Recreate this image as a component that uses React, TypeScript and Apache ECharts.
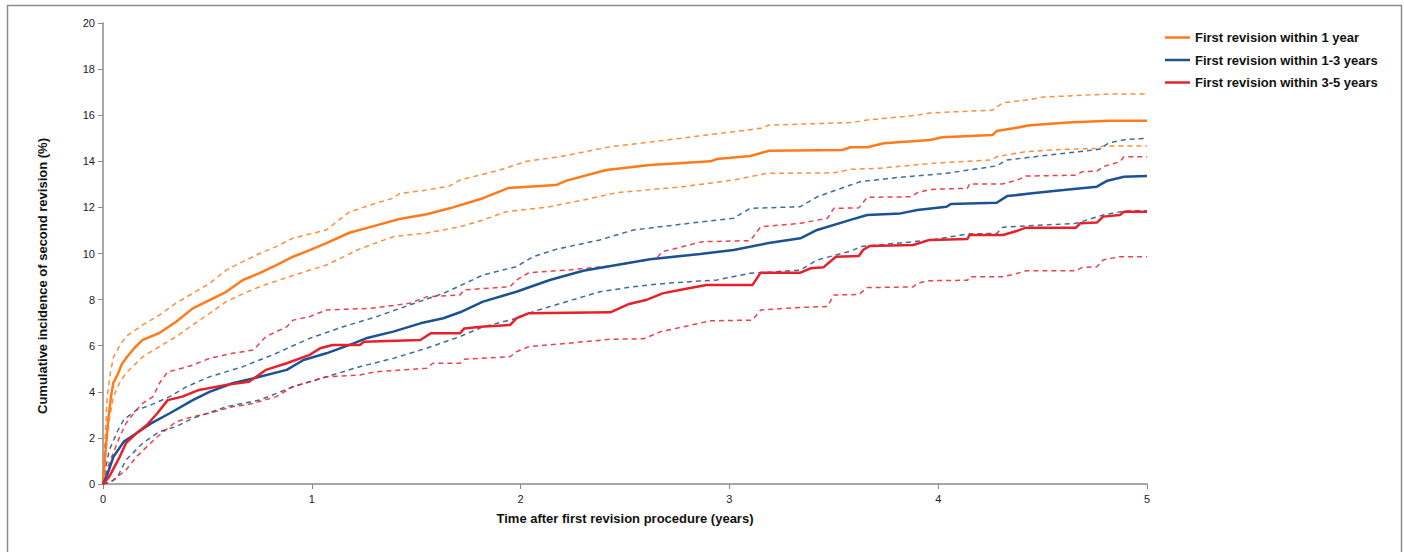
import React, { useEffect, useRef } from "react";
import * as echarts from "echarts";

const yTicks = [0, 2, 4, 6, 8, 10, 12, 14, 16, 18, 20];
const xTicks = [0, 1, 2, 3, 4, 5];
const legendNames = ["First revision within 1 year", "First revision within 1-3 years", "First revision within 3-5 years"];
const xTitle = "Time after first revision procedure (years)";
const yTitle = "Cumulative incidence of second revision (%)";

const oneYear = [[0,0],[0.01,1.2],[0.025,2.8],[0.04,3.9],[0.05,4.4],[0.073,4.8],[0.09,5.2],[0.114,5.5],[0.15,5.9],[0.19,6.25],[0.27,6.55],[0.35,7.04],[0.43,7.62],[0.51,7.98],[0.59,8.34],[0.67,8.85],[0.75,9.15],[0.83,9.5],[0.91,9.86],[0.99,10.15],[1.07,10.45],[1.18,10.9],[1.3,11.2],[1.42,11.5],[1.55,11.7],[1.66,11.96],[1.82,12.4],[1.94,12.84],[2.17,12.97],[2.22,13.16],[2.41,13.62],[2.62,13.84],[2.91,14.0],[2.94,14.1],[3.10,14.23],[3.19,14.46],[3.54,14.49],[3.58,14.61],[3.66,14.61],[3.74,14.78],[3.96,14.92],[4.02,15.04],[4.26,15.14],[4.28,15.31],[4.36,15.43],[4.44,15.56],[4.62,15.68],[4.82,15.76],[5.0,15.76]];
const oneYearUpper = [[0,0],[0.01,2],[0.02,3.8],[0.035,4.8],[0.05,5.5],[0.08,6.0],[0.11,6.4],[0.19,6.9],[0.27,7.33],[0.35,7.85],[0.43,8.27],[0.51,8.7],[0.59,9.28],[0.67,9.65],[0.75,10.0],[0.83,10.3],[0.91,10.67],[1.07,11.02],[1.12,11.38],[1.18,11.8],[1.31,12.19],[1.39,12.4],[1.42,12.6],[1.55,12.75],[1.66,12.93],[1.71,13.19],[1.90,13.62],[2.03,14.0],[2.19,14.2],[2.43,14.63],[2.70,14.92],[2.94,15.2],[3.02,15.28],[3.15,15.43],[3.19,15.57],[3.58,15.68],[3.66,15.79],[3.9,16.0],[3.96,16.1],[4.26,16.22],[4.31,16.54],[4.45,16.69],[4.49,16.78],[4.82,16.92],[5.0,16.92]];
const oneYearLower = [[0,0],[0.015,1.5],[0.03,2.8],[0.05,3.79],[0.08,4.4],[0.11,4.81],[0.19,5.52],[0.27,5.96],[0.35,6.39],[0.43,6.9],[0.51,7.4],[0.59,7.91],[0.67,8.25],[0.75,8.56],[0.91,9.05],[1.07,9.5],[1.23,10.2],[1.39,10.73],[1.55,10.89],[1.71,11.16],[1.82,11.45],[1.93,11.81],[2.14,12.03],[2.30,12.32],[2.46,12.64],[2.78,12.9],[3.02,13.19],[3.18,13.48],[3.50,13.5],[3.58,13.65],[3.72,13.7],[3.97,13.91],[4.26,14.06],[4.28,14.2],[4.42,14.42],[4.6,14.52],[4.76,14.56],[4.79,14.66],[5.0,14.66]];

const oneToThree = [[0,0],[0.02,0.4],[0.05,1.18],[0.1,1.84],[0.16,2.2],[0.23,2.63],[0.32,3.07],[0.43,3.64],[0.51,4.0],[0.62,4.37],[0.75,4.65],[0.88,4.95],[0.96,5.38],[1.07,5.67],[1.2,6.1],[1.26,6.32],[1.39,6.61],[1.52,6.97],[1.63,7.19],[1.71,7.45],[1.82,7.91],[1.98,8.34],[2.14,8.85],[2.30,9.25],[2.46,9.5],[2.62,9.75],[2.86,9.98],[3.02,10.15],[3.18,10.44],[3.34,10.66],[3.42,11.02],[3.58,11.46],[3.66,11.67],[3.82,11.74],[3.9,11.89],[4.04,12.03],[4.06,12.15],[4.28,12.2],[4.33,12.49],[4.45,12.61],[4.60,12.75],[4.76,12.9],[4.81,13.16],[4.89,13.33],[5.0,13.36]];
const oneToThreeUpper = [[0,0],[0.015,0.8],[0.03,1.47],[0.07,2.3],[0.1,2.8],[0.16,3.21],[0.23,3.43],[0.32,3.79],[0.40,4.22],[0.51,4.65],[0.67,5.09],[0.83,5.67],[0.99,6.32],[1.15,6.82],[1.31,7.26],[1.47,7.77],[1.63,8.27],[1.71,8.6],[1.82,9.07],[1.98,9.43],[2.06,9.86],[2.17,10.18],[2.38,10.59],[2.54,11.02],[2.78,11.28],[3.02,11.53],[3.10,11.96],[3.34,12.03],[3.42,12.46],[3.58,12.97],[3.63,13.12],[3.82,13.31],[4.04,13.48],[4.28,13.8],[4.33,14.06],[4.77,14.52],[4.82,14.81],[4.90,14.95],[5.0,15.0]];
const oneToThreeLower = [[0,0],[0.04,0.1],[0.07,0.32],[0.11,1.04],[0.19,1.77],[0.27,2.27],[0.35,2.49],[0.43,2.85],[0.59,3.35],[0.75,3.64],[0.91,4.22],[1.07,4.65],[1.23,5.09],[1.39,5.45],[1.55,5.89],[1.71,6.4],[1.82,6.82],[1.98,7.19],[2.06,7.48],[2.22,7.91],[2.38,8.34],[2.54,8.56],[2.70,8.71],[2.94,8.85],[3.10,9.14],[3.34,9.28],[3.42,9.72],[3.58,10.1],[3.63,10.3],[3.88,10.51],[3.97,10.59],[4.14,10.85],[4.28,10.87],[4.31,11.14],[4.66,11.31],[4.79,11.67],[4.89,11.84],[5.0,11.86]];

const threeToFive = [[0,0],[0.03,0.32],[0.08,1.18],[0.11,1.77],[0.16,2.2],[0.21,2.56],[0.26,3.07],[0.31,3.64],[0.38,3.79],[0.46,4.08],[0.59,4.3],[0.70,4.44],[0.78,4.95],[0.88,5.24],[0.99,5.6],[1.04,5.89],[1.10,6.03],[1.23,6.03],[1.25,6.17],[1.52,6.25],[1.57,6.54],[1.71,6.54],[1.73,6.75],[1.81,6.82],[1.95,6.9],[1.98,7.19],[2.04,7.41],[2.43,7.45],[2.52,7.81],[2.60,7.98],[2.68,8.27],[2.78,8.45],[2.89,8.63],[3.11,8.63],[3.15,9.17],[3.34,9.17],[3.39,9.36],[3.45,9.4],[3.51,9.86],[3.62,9.89],[3.64,10.15],[3.67,10.32],[3.88,10.37],[3.96,10.59],[4.14,10.63],[4.15,10.8],[4.31,10.8],[4.38,10.99],[4.42,11.12],[4.66,11.12],[4.68,11.31],[4.76,11.34],[4.79,11.6],[4.87,11.67],[4.89,11.81],[5.0,11.81]];
const threeToFiveUpper = [[0,0],[0.03,0.9],[0.08,2.05],[0.11,2.63],[0.16,3.21],[0.19,3.5],[0.24,3.79],[0.27,4.37],[0.31,4.87],[0.35,4.95],[0.43,5.16],[0.51,5.45],[0.62,5.67],[0.72,5.81],[0.78,6.39],[0.88,6.82],[0.91,7.11],[0.99,7.26],[1.07,7.55],[1.28,7.62],[1.47,7.84],[1.55,8.12],[1.71,8.2],[1.73,8.42],[1.95,8.56],[1.98,8.85],[2.04,9.17],[2.22,9.28],[2.43,9.46],[2.65,9.79],[2.68,10.08],[2.87,10.51],[3.1,10.56],[3.15,11.16],[3.34,11.31],[3.47,11.53],[3.50,11.96],[3.62,11.98],[3.66,12.44],[3.87,12.46],[3.9,12.64],[3.96,12.78],[4.14,12.83],[4.15,13.02],[4.31,13.02],[4.38,13.19],[4.42,13.36],[4.66,13.4],[4.69,13.55],[4.76,13.57],[4.79,13.77],[4.87,13.98],[4.89,14.2],[5.0,14.2]];
const threeToFiveLower = [[0,0],[0.05,0.17],[0.11,0.61],[0.16,1.18],[0.21,1.62],[0.26,2.05],[0.35,2.7],[0.43,2.92],[0.51,3.07],[0.62,3.35],[0.72,3.5],[0.83,3.79],[0.91,4.22],[0.99,4.44],[1.07,4.65],[1.23,4.73],[1.31,4.87],[1.55,5.02],[1.58,5.24],[1.71,5.24],[1.73,5.41],[1.95,5.52],[1.98,5.74],[2.04,5.96],[2.22,6.1],[2.43,6.28],[2.59,6.3],[2.67,6.61],[2.78,6.82],[2.91,7.08],[3.11,7.11],[3.15,7.55],[3.34,7.66],[3.47,7.7],[3.50,8.2],[3.62,8.22],[3.66,8.52],[3.88,8.55],[3.9,8.71],[3.96,8.82],[4.14,8.84],[4.15,8.99],[4.31,8.99],[4.38,9.14],[4.42,9.25],[4.66,9.25],[4.69,9.4],[4.76,9.42],[4.79,9.72],[4.87,9.86],[5.0,9.86]];

const ORANGE = "#FF7A1A";
const BLUE = "#1B5292";
const RED = "#E8202A";
const FONT = "'Liberation Sans', Arial, sans-serif";

function solid(name: string, data: number[][], color: string) {
  return {
    type: "line", name, data, showSymbol: false, symbol: "none", z: 3,
    lineStyle: { color, width: 2.5 }, itemStyle: { color },
  };
}
function dashed(name: string, data: number[][], color: string) {
  return {
    type: "line", name, data, showSymbol: false, symbol: "none", z: 2,
    lineStyle: { color, width: 1.5, type: [5, 4], opacity: 0.85 }, itemStyle: { color },
  };
}

export default function App() {
  const ref = useRef<HTMLDivElement>(null);
  useEffect(() => {
    if (!ref.current) return;
    const chart = echarts.init(ref.current, undefined, { renderer: "svg" });
    chart.setOption({
      animation: false,
      backgroundColor: "#ffffff",
      textStyle: { fontFamily: FONT },
      grid: { left: 103, right: 257, top: 23, bottom: 68 },
      legend: {
        data: legendNames,
        orient: "vertical",
        left: 1160,
        top: 26,
        icon: "rect",
        itemWidth: 25,
        itemHeight: 2.5,
        itemGap: 9.5,
        textStyle: { fontFamily: FONT, fontWeight: "bold", fontSize: 13, color: "#111" },
      },
      xAxis: {
        type: "value", min: 0, max: 5, interval: 1,
        name: xTitle,
        nameLocation: "middle", nameGap: 28,
        nameTextStyle: { fontFamily: FONT, fontWeight: "bold", fontSize: 13, color: "#111" },
        axisLine: { show: true, lineStyle: { color: "#8a8a8a", width: 1.5 } },
        axisTick: { show: true, length: 5, lineStyle: { color: "#8a8a8a" } },
        axisLabel: { fontSize: 11, color: "#222", margin: 9, formatter: (v: number) => (xTicks.includes(v) ? String(v) : "") },
        splitLine: { show: false },
      },
      yAxis: {
        type: "value", min: 0, max: 20, interval: 2,
        axisLine: { show: true, lineStyle: { color: "#8a8a8a", width: 1.5 } },
        axisTick: { show: true, length: 5, lineStyle: { color: "#8a8a8a" } },
        axisLabel: { fontSize: 11, color: "#222", margin: 8, formatter: (v: number) => (yTicks.includes(v) ? String(v) : "") },
        splitLine: { show: false },
      },
      graphic: [
        {
          type: "rect", silent: true, z: -1,
          shape: { x: 7.5, y: 5.5, width: 1394, height: 600 },
          style: { fill: "none", stroke: "#8c8c8c", lineWidth: 1.5 },
        },
        {
          type: "text", silent: true,
          x: 42, y: 276, rotation: Math.PI / 2,
          style: {
            text: yTitle, fontFamily: FONT, fontWeight: "bold", fontSize: 13, fill: "#111",
            align: "center", verticalAlign: "middle",
          },
        },
      ],
      series: [
        dashed("1 year lower", oneYearLower, ORANGE),
        dashed("1 year upper", oneYearUpper, ORANGE),
        dashed("1-3 years lower", oneToThreeLower, BLUE),
        dashed("1-3 years upper", oneToThreeUpper, BLUE),
        dashed("3-5 years lower", threeToFiveLower, RED),
        dashed("3-5 years upper", threeToFiveUpper, RED),
        solid(legendNames[0], oneYear, ORANGE),
        solid(legendNames[1], oneToThree, BLUE),
        solid(legendNames[2], threeToFive, RED),
      ],
    });
    return () => chart.dispose();
  }, []);
  return <div ref={ref} style={{ position: "absolute", left: 0, top: 0, width: 1404, height: 552 }} />;
}
